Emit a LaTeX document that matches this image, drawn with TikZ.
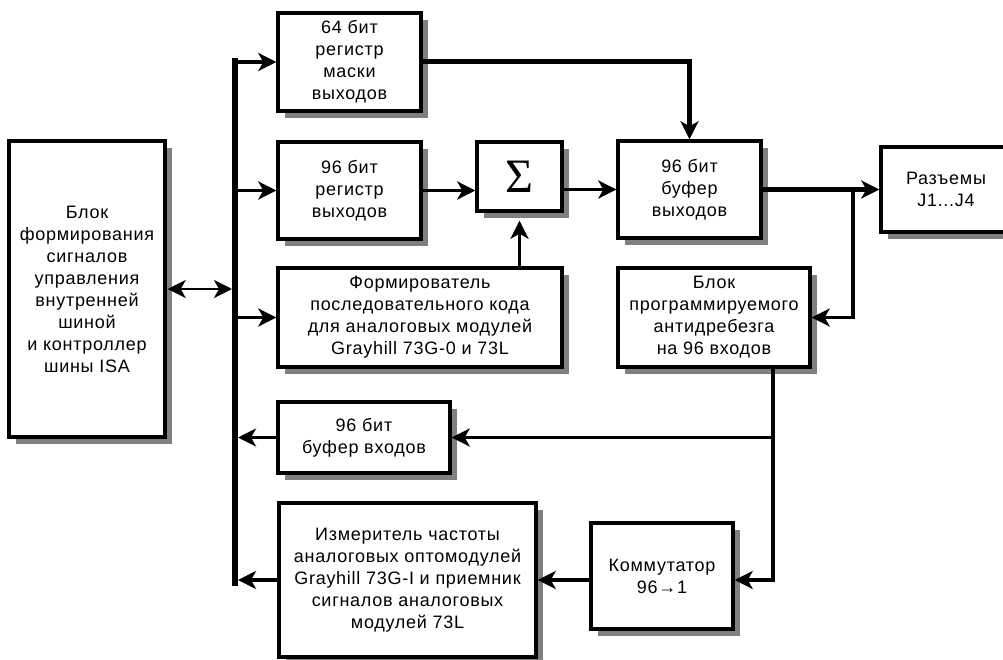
\documentclass[tikz,border=0pt]{standalone}
\usepackage{fontspec}
\setmainfont[LetterSpace=4]{Liberation Sans}
\newfontfamily\sigfont{Liberation Serif}
\usetikzlibrary{arrows.meta,shadows,calc}
\definecolor{shd}{RGB}{128,128,128}
\begin{document}
\begin{tikzpicture}[x=1pt,y=-1pt,
  box/.style={draw,line width=3.4pt,fill=white,align=center,inner sep=0pt,
    font=\fontsize{18}{22}\selectfont,
    drop shadow={shadow xshift=7pt,shadow yshift=-7pt,fill=shd,opacity=1}},
  tip/.tip={Stealth[length=18pt,width=18pt,inset=5pt]},
  arr/.style={line width=3.3pt,-tip},
  arrthick/.style={line width=5pt,-tip},
  darr/.style={line width=2.4pt,tip-tip},
  busline/.style={line width=6pt}]
\useasboundingbox (0,0) rectangle (1003,660);
% boxes
\node[box,minimum width=156pt,minimum height=296pt] (isa) at (87,289)
  {Блок\\формирования\\сигналов\\управления\\внутренней\\шиной\\и контроллер\\шины ISA};
\node[box,minimum width=143pt,minimum height=98pt] (mask) at (349.5,62)
  {64 бит\\регистр\\маски\\выходов};
\node[box,minimum width=143pt,minimum height=97pt] (reg) at (349.5,190.5)
  {96 бит\\регистр\\выходов};
\node[box,minimum width=85pt,minimum height=69pt] (sigma) at (519.5,176.5)
  {\sigfont\fontsize{48}{48}\selectfont Σ};
\node[box,minimum width=143pt,minimum height=97pt] (buf) at (689.5,189.5)
  {96 бит\\буфер\\выходов};
\node[box,minimum width=130pt,minimum height=85pt,text width=120pt] (conn) at (946,189.5)
  {Разъемы\\J1...J4};
\node[box,minimum width=284pt,minimum height=99pt] (form) at (420,317.5)
  {Формирователь\\последовательного кода\\для аналоговых модулей\\Grayhill 73G-0 и 73L};
\node[box,minimum width=192pt,minimum height=99pt] (anti) at (714,317.5)
  {Блок\\программируемого\\антидребезга\\на 96 входов};
\node[box,minimum width=172pt,minimum height=71pt] (bin) at (364,437.5)
  {96 бит\\буфер входов};
\node[box,minimum width=257pt,minimum height=154pt] (meas) at (407.5,580)
  {Измеритель частоты\\аналоговых оптомодулей\\Grayhill 73G-I и приемник\\сигналов аналоговых\\модулей 73L};
\node[box,minimum width=142pt,minimum height=106pt] (komm) at (662,576)
  {Коммутатор\\96→1};
% helper coordinates
\coordinate (bt) at (235,61);
\coordinate (bb) at (235,582.5);
\coordinate (jx) at (853,0);
\coordinate (ax) at (773,0);
\coordinate (ly) at (0,580);
% bus
\draw[busline,line cap=rect] (bt) -- (bb);
\draw[darr,shorten >=3pt,shorten <=1pt] (isa.east) -- (bt |- isa.east);
\draw[arr] (bt |- mask.west) -- (mask.west);
\draw[arr] (bt |- reg.west) -- (reg.west);
\draw[arr] (bt |- form.west) -- (form.west);
\draw[arr,shorten >=3pt] (bin.west) -- (bt |- bin.west);
\draw[arr,shorten >=3pt] (meas.west) -- (bt |- meas.west);
% upper path
\draw[arrthick] (mask.east) -- (buf.north |- mask.east) -- (buf.north);
\draw[arr] (reg.east) -- (sigma.west |- reg.east);
\draw[arr] (sigma.east |- buf.west) -- (buf.west);
\draw[arr,shorten >=8pt] (sigma.south |- form.north) -- (sigma.south);
\draw[arrthick] (buf.east) -- (conn.west);
\coordinate (j) at (buf.east -| jx);
\draw[arr] (j) -- (j |- anti.east) -- (anti.east);
% lower path
\draw[arr] (anti.south -| ax) -- (ax |- ly) -- (komm.east |- ly);
\draw[arr] (ax |- bin.east) -- (bin.east);
\draw[arr] (komm.west |- ly) -- (meas.east |- ly);
\end{tikzpicture}
\end{document}
